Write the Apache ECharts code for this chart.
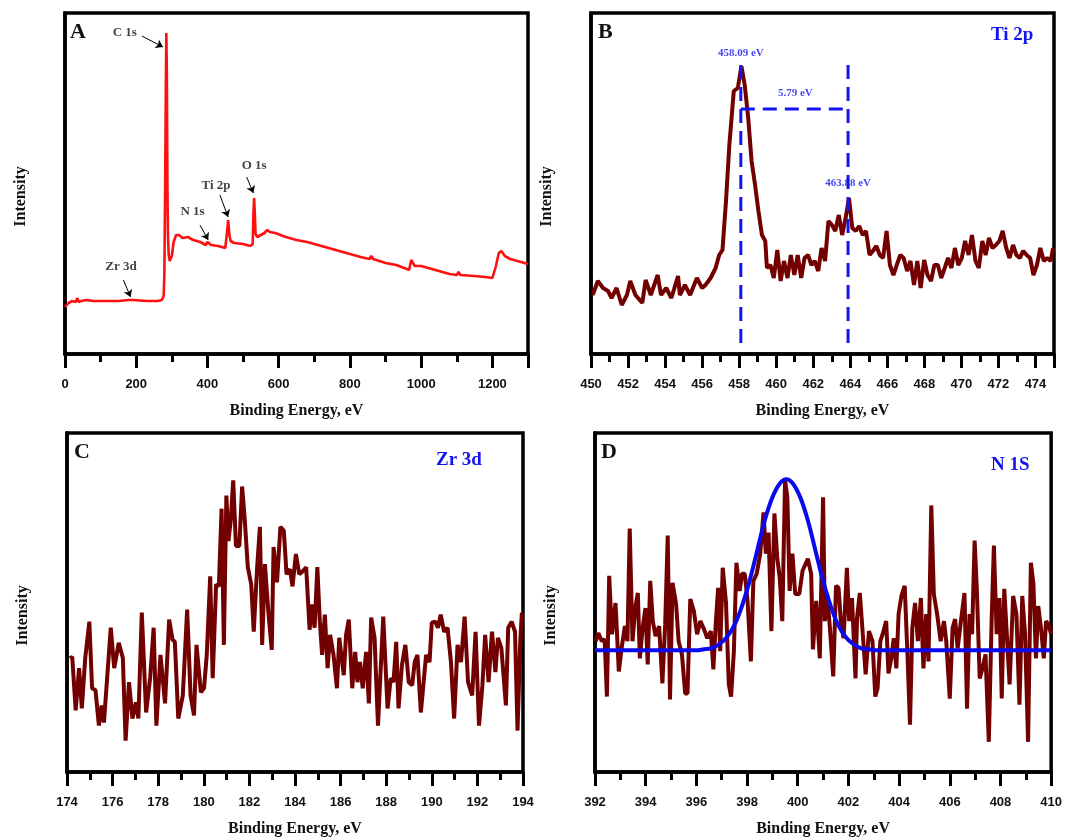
<!DOCTYPE html>
<html>
<head>
<meta charset="utf-8">
<script src="https://cdn.jsdelivr.net/npm/echarts@6/dist/echarts.min.js"></script>
<style>
  html, body { margin: 0; padding: 0; background: #fff; }
  #chart { width: 1065px; height: 838px; }
</style>
</head>
<body>
<div id="chart"></div>
<script>
// ---- Survey spectrum (panel A): binding energy (eV) / intensity (a.u.) ----
const surveyEnergy = [0,5,10,15,20,25,30,35,38,45,60,62,80,120,150,180,185,190,230,260,272,277,279,281,283,284.5,286,287.5,289,291,294,297,300,305,312,320,330,345,360,380,395,400,410,430,450,454,456,458,460,462,465,468,475,500,520,527,529,531,533,535,540,550,560,568,575,590,620,650,680,700,730,760,800,830,855,860,865,900,930,960,966,972,976,982,1000,1030,1060,1080,1100,1105,1110,1150,1180,1200,1205,1210,1218,1225,1235,1250,1270,1290,1300];
const surveyCounts = [47,49,51,50,53,51,52,56,52,53,54,55,53,53,53,54,56,54,53,53,54,58,80,160,260,321,280,170,120,100,93,92,98,112,119,119,116,117,114,112,109,112,109,108,106,108,125,134,132,118,113,115,111,110,108,110,140,156,140,120,117,119,121,124,122,121,117,114,112,110,107,104,100,97,95,98,95,91,89,85,84,94,95,88,88,85,82,80,79,82,79,78,77,76,78,88,101,103,98,95,93,91,90];

// ---- Ti 2p region (panel B) ----
const tiEnergy = [450.09,450.37,450.65,450.92,451.11,451.38,451.66,451.94,452.12,452.40,452.77,452.95,453.23,453.60,453.78,454.06,454.34,454.70,454.80,455.07,455.35,455.72,456.00,456.18,456.46,456.73,456.92,457.10,457.29,457.47,457.71,457.93,458.12,458.30,458.49,458.67,458.86,459.04,459.23,459.41,459.50,459.69,459.87,460.06,460.24,460.42,460.61,460.79,460.98,461.16,461.35,461.53,461.72,461.90,462.08,462.27,462.45,462.64,462.82,463.01,463.19,463.38,463.56,463.75,463.93,464.11,464.30,464.48,464.67,464.85,465.04,465.22,465.41,465.59,465.77,465.96,466.14,466.33,466.51,466.70,466.88,467.07,467.25,467.44,467.62,467.80,467.99,468.17,468.36,468.54,468.73,468.91,469.10,469.28,469.46,469.65,469.83,470.02,470.20,470.39,470.57,470.76,470.94,471.13,471.31,471.49,471.68,471.86,472.05,472.23,472.42,472.60,472.79,472.97,473.15,473.34,473.52,473.71,473.89,474.08,474.26,474.45,474.63,474.82,474.95];
const tiCounts = [59,73,66,63,56,66,49,59,73,59,51,74,59,79,59,66,56,78,59,69,59,76,66,69,76,86,99,104,153,209,263,266,288,269,236,193,169,143,119,113,86,89,76,104,73,93,76,99,79,99,76,96,99,89,93,83,106,93,133,129,123,139,119,136,156,126,123,128,119,123,99,103,108,99,96,123,89,79,89,99,96,83,93,69,93,66,94,79,73,89,89,76,86,96,86,106,89,96,113,99,119,93,86,113,99,116,106,109,113,123,106,96,109,99,96,103,99,96,79,89,106,93,96,93,106];
const tiPeaks = [458.09, 463.88];
const tiSplit = 5.79;

// ---- Zr 3d region (panel C) ----
const zrEnergy = [174.12,174.23,174.38,174.53,174.65,174.80,174.98,175.10,175.25,175.40,175.52,175.62,175.77,175.92,176.07,176.27,176.45,176.57,176.72,176.87,177.02,177.13,177.28,177.47,177.65,177.80,177.92,178.10,178.30,178.48,178.63,178.73,178.88,179.08,179.27,179.42,179.57,179.68,179.87,180.01,180.13,180.28,180.39,180.54,180.66,180.78,180.88,180.99,181.08,181.18,181.29,181.41,181.56,181.68,181.80,181.93,182.08,182.19,182.34,182.46,182.56,182.68,182.83,182.98,183.06,183.21,183.36,183.51,183.63,183.78,183.89,184.04,184.19,184.34,184.49,184.64,184.74,184.86,184.98,185.09,185.19,185.31,185.43,185.54,185.69,185.84,185.94,186.14,186.24,186.36,186.51,186.64,186.74,186.85,186.97,187.12,187.24,187.34,187.49,187.64,187.87,188.06,188.20,188.32,188.44,188.54,188.69,188.84,188.99,189.14,189.25,189.37,189.52,189.75,189.90,190.00,190.15,190.27,190.39,190.54,190.69,190.84,190.98,191.13,191.28,191.44,191.59,191.77,191.92,192.07,192.22,192.34,192.49,192.64,192.79,192.90,193.05,193.25,193.35,193.50,193.65,193.76,193.88,193.95];
const zrCounts = [113,114,61,103,63,113,149,83,81,46,66,49,96,143,103,128,113,31,89,53,69,53,158,59,94,143,46,116,68,151,131,129,53,76,161,76,56,126,79,83,116,194,93,186,184,261,126,274,229,249,289,224,224,283,249,203,186,139,203,243,126,206,159,121,223,188,243,239,196,201,184,216,196,199,203,141,166,143,203,149,116,156,103,136,116,83,133,96,136,151,83,119,89,109,83,119,68,153,133,46,154,63,93,89,129,63,106,126,89,86,109,116,59,116,109,148,149,143,156,139,143,109,53,126,109,154,89,76,139,46,86,136,89,139,99,133,123,66,143,149,139,41,129,158];

// ---- N 1s region (panel D): measured counts and fitted component ----
const nEnergy = [392.03,392.13,392.27,392.38,392.47,392.56,392.67,392.81,392.94,393.05,393.18,393.28,393.37,393.48,393.59,393.69,393.77,393.88,393.99,394.08,394.18,394.28,394.39,394.53,394.66,394.77,394.87,394.96,395.06,395.20,395.30,395.43,395.56,395.65,395.76,395.90,396.03,396.16,396.30,396.43,396.57,396.67,396.77,396.86,396.94,397.04,397.17,397.28,397.37,397.48,397.58,397.71,397.80,397.91,398.02,398.15,398.25,398.38,398.52,398.65,398.74,398.85,398.96,399.08,399.19,399.29,399.39,399.50,399.59,399.68,399.79,399.90,400.06,400.19,400.40,400.53,400.60,400.73,400.87,401.00,401.07,401.16,401.27,401.40,401.51,401.61,401.71,401.81,401.94,402.03,402.14,402.28,402.34,402.45,402.55,402.68,402.81,402.95,403.06,403.15,403.26,403.35,403.49,403.58,403.69,403.79,403.89,403.98,404.09,404.22,404.33,404.43,404.52,404.63,404.74,404.86,404.96,405.07,405.16,405.27,405.37,405.50,405.64,405.77,405.86,406.00,406.11,406.21,406.31,406.44,406.58,406.68,406.78,406.88,406.98,407.07,407.18,407.29,407.41,407.54,407.65,407.74,407.85,407.96,408.05,408.15,408.25,408.36,408.50,408.63,408.75,408.86,408.97,409.09,409.20,409.30,409.40,409.49,409.60,409.71,409.80,409.89,410.00];
const nCounts = [130,138,130,132,75,195,137,168,100,123,145,130,242,130,163,178,113,143,163,107,190,150,135,145,88,147,235,72,188,167,130,117,78,78,172,160,137,150,142,133,140,102,150,183,120,203,168,87,75,120,208,180,197,197,170,110,190,197,217,258,217,238,140,257,213,193,150,290,273,180,217,177,177,200,212,197,122,170,113,273,150,177,143,95,185,183,147,133,203,150,173,93,153,178,143,97,140,130,75,83,130,137,150,98,113,133,103,157,175,185,117,47,143,168,130,173,103,157,110,265,177,157,130,150,130,73,143,152,123,150,178,63,157,137,230,180,93,103,117,30,150,225,137,173,73,182,137,87,175,157,67,175,137,30,208,187,113,165,143,113,150,147,137];
const nFitEnergy = [392,396.0,396.3,396.6,396.9,397.2,397.5,397.8,398.1,398.4,398.7,399.0,399.3,399.55,399.8,400.1,400.4,400.7,401.0,401.3,401.6,401.9,402.2,402.5,402.8,403.1,410];
const nFitCounts = [121,121,122,123,127,134,146,165,190,220,250,273,287,291,287,273,250,220,190,165,146,134,127,123,122,121,121];

// ---- Peak labels on the survey spectrum: text anchor, arrow start, arrow tip ----
const surveyTags = [
  { text: 'C 1s',  at: [168, 321], from: [216, 318], to: [275, 307] },
  { text: 'O 1s',  at: [531, 188], from: [510, 177], to: [529, 161] },
  { text: 'Ti 2p', at: [424, 168], from: [435, 159], to: [458, 137] },
  { text: 'N 1s',  at: [358, 142], from: [379, 129], to: [402, 114] },
  { text: 'Zr 3d', at: [157, 87],  from: [164, 74],  to: [184, 57] }
];

const SERIF = '"Liberation Serif", "Times New Roman", serif';
const SANS = '"Liberation Sans", Arial, sans-serif';
const DARK_RED = '#730000';
const BLUE = '#1414f0';

const panels = [
  { grid: { left: 65, right: 537, top: 13, bottom: 484 }, x: [0, 1300, 200], yMax: 341 },
  { grid: { left: 591, right: 11, top: 13, bottom: 484 }, x: [450, 475, 2], yMax: 341 },
  { grid: { left: 67, right: 542, top: 433, bottom: 65 }, x: [174, 194, 2], yMax: 336 },
  { grid: { left: 595, right: 13, top: 433, bottom: 65 }, x: [392, 410, 2], yMax: 337 }
];

const grids = panels.map(p => Object.assign({
  show: true, borderColor: '#000', borderWidth: 3.5, backgroundColor: 'transparent'
}, p.grid));

const xAxes = panels.map((p, i) => ({
  type: 'value', gridIndex: i, min: p.x[0], max: p.x[1], interval: p.x[2],
  name: 'Binding Energy, eV', nameLocation: 'middle', nameGap: 49,
  nameTextStyle: { fontFamily: SERIF, fontWeight: 'bold', fontSize: 16, color: '#111' },
  axisLine: { show: true, lineStyle: { color: '#000', width: 3.5 } },
  axisTick: { show: true, inside: false, length: 14, lineStyle: { color: '#000', width: 3 } },
  minorTick: { show: true, splitNumber: 2, length: 8, lineStyle: { color: '#000', width: 3 } },
  axisLabel: {
    fontFamily: SANS, fontWeight: 'bold', fontSize: 13, color: '#111', margin: 24,
    showMaxLabel: (p.x[1] - p.x[0]) % p.x[2] === 0,
    formatter: v => ((v - p.x[0]) % p.x[2] === 0 ? String(v) : '')
  },
  splitLine: { show: false }
}));

const yAxes = panels.map((p, i) => ({
  type: 'value', gridIndex: i, min: 0, max: p.yMax,
  name: 'Intensity', nameLocation: 'middle', nameGap: 36, nameRotate: 90,
  nameTextStyle: { fontFamily: SERIF, fontWeight: 'bold', fontSize: 16, color: '#111', padding: [0, 26, 0, 0] },
  axisLine: { show: true, lineStyle: { color: '#000', width: 3.5 } },
  axisTick: { show: false }, axisLabel: { show: false }, splitLine: { show: false }
}));

const zip = (xs, ys) => xs.map((x, i) => [x, ys[i]]);

function textSeries(axis, items, style) {
  return {
    type: 'scatter', xAxisIndex: axis, yAxisIndex: axis, symbolSize: 0, silent: true, z: 5,
    data: items.map(it => ({ value: it.at, name: it.text })),
    label: Object.assign({ show: true, position: 'inside', formatter: '{b}' }, style)
  };
}

function dashed(axis, pts) {
  return {
    type: 'line', xAxisIndex: axis, yAxisIndex: axis, data: pts, showSymbol: false, silent: true, z: 4,
    lineStyle: { color: BLUE, width: 3, type: [14, 8] }
  };
}

const series = [
  {
    type: 'line', xAxisIndex: 0, yAxisIndex: 0, data: zip(surveyEnergy, surveyCounts),
    showSymbol: false, lineStyle: { color: '#ff1010', width: 2.6 },
    markLine: {
      silent: true, symbol: ['none', 'arrow'], symbolSize: 7, animation: false,
      label: { show: false },
      lineStyle: { color: '#000', width: 1, type: 'solid' },
      data: surveyTags.map(t => [{ coord: t.from }, { coord: t.to }])
    }
  },
  textSeries(0, surveyTags, { fontFamily: SERIF, fontWeight: 'bold', fontSize: 13, color: '#111' }),

  { type: 'line', xAxisIndex: 1, yAxisIndex: 1, data: zip(tiEnergy, tiCounts), showSymbol: false,
    lineStyle: { color: DARK_RED, width: 4 }, z: 3 },
  dashed(1, [[tiPeaks[0], 289], [tiPeaks[0], 11]]),
  dashed(1, [[tiPeaks[1], 289], [tiPeaks[1], 9]]),
  dashed(1, [[tiPeaks[0], 245], [tiPeaks[1], 245]]),
  textSeries(1, [
    { text: tiPeaks[0].toFixed(2) + ' eV', at: [tiPeaks[0], 301] },
    { text: tiSplit.toFixed(2) + ' eV', at: [(tiPeaks[0] + tiPeaks[1]) / 2 + 0.05, 261] },
    { text: tiPeaks[1].toFixed(2) + ' eV', at: [tiPeaks[1], 171] }
  ], { fontFamily: SERIF, fontWeight: 'bold', fontSize: 11, color: BLUE }),

  { type: 'line', xAxisIndex: 2, yAxisIndex: 2, data: zip(zrEnergy, zrCounts), showSymbol: false,
    lineStyle: { color: DARK_RED, width: 4 } },

  { type: 'line', xAxisIndex: 3, yAxisIndex: 3, data: zip(nEnergy, nCounts), showSymbol: false,
    lineStyle: { color: DARK_RED, width: 4 } },
  { type: 'line', xAxisIndex: 3, yAxisIndex: 3, data: zip(nFitEnergy, nFitCounts), showSymbol: false,
    smooth: 0.4, lineStyle: { color: '#0a0aee', width: 4 }, z: 4 }
];

const letterStyle = { fontFamily: SERIF, fontWeight: 'bold', fontSize: 22, color: '#111' };
const tagStyle = { fontFamily: SERIF, fontWeight: 'bold', fontSize: 19, color: BLUE };
const titles = [
  { text: 'A', left: 70, top: 21, textStyle: letterStyle },
  { text: 'B', left: 598, top: 21, textStyle: letterStyle },
  { text: 'C', left: 74, top: 441, textStyle: letterStyle },
  { text: 'D', left: 601, top: 441, textStyle: letterStyle },
  { text: 'Ti 2p', left: 991, top: 26, textStyle: tagStyle },
  { text: 'Zr 3d', left: 436, top: 451, textStyle: tagStyle },
  { text: 'N 1S', left: 991, top: 456, textStyle: tagStyle }
].map(t => Object.assign({ padding: 0, itemGap: 0 }, t));

const chart = echarts.init(document.getElementById('chart'), null, { renderer: 'canvas' });
chart.setOption({
  animation: false,
  backgroundColor: '#fff',
  title: titles,
  grid: grids,
  xAxis: xAxes,
  yAxis: yAxes,
  series: series
});
</script>
</body>
</html>
